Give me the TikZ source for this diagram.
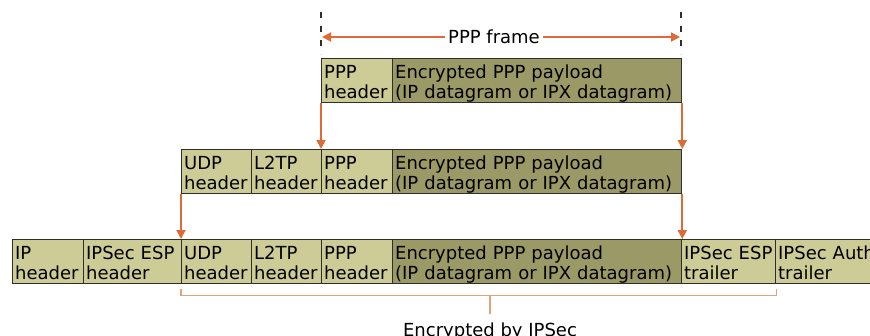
\documentclass[tikz,border=0pt]{standalone}
\usepackage{fontspec}
\setmainfont{DejaVu Sans}
\usetikzlibrary{arrows.meta}
\definecolor{hdrfill}{HTML}{CDCB96}
\definecolor{payfill}{HTML}{9B9966}
\definecolor{cellline}{HTML}{2E2E2E}
\definecolor{arrowc}{HTML}{DE6B35}
\definecolor{brkc}{HTML}{DCA67A}
\tikzset{
  cell/.style={draw=cellline, line width=1.3pt, anchor=north west,
    inner xsep=2.5pt, inner ysep=0pt, text width=#1-5pt,
    text height=20pt, text depth=24pt, align=left,
    font=\fontsize{18}{19.5}\selectfont},
  hdr/.style={cell=#1, fill=hdrfill},
  pay/.style={cell=#1, fill=payfill},
  down/.style={draw=arrowc, line width=1.8pt,
    -{Triangle[length=9pt,width=9pt]}},
  frame/.style={draw=arrowc, line width=1.8pt,
    -{Triangle[length=9pt,width=9pt]}},
  edge/.style={draw=cellline, line width=1.5pt, dash pattern=on 6pt off 8pt},
  brk/.style={draw=brkc, line width=1.2pt}
}
\begin{document}
\begin{tikzpicture}[x=1pt,y=-1pt]
\useasboundingbox (0,0) rectangle (870,335);
\clip (0,0) rectangle (870,335);
% PPP frame
\node[hdr=71pt] (ppp1) at (321,58) {PPP\\header};
\node[pay=289pt] (pay1) at (392,58) {Encrypted PPP payload\\(IP datagram or IPX datagram)};
\coordinate (el-top) at (321,12);
\coordinate (el-bot) at (321,54);
\coordinate (er-top) at (681,12);
\coordinate (er-bot) at (681,54);
\draw[edge] (el-top) -- (el-bot);
\draw[edge] (er-top) -- (er-bot);
\node[fill=white, inner xsep=3pt, font=\fontsize{18}{19.5}\selectfont] (frame) at (494,37) {PPP frame};
\coordinate (fl) at (322,37);
\coordinate (fr) at (680,37);
\draw[frame] (frame) -- (fl);
\draw[frame] (frame) -- (fr);
% L2TP packet
\node[hdr=70pt] (udp2) at (181,149) {UDP\\header};
\node[hdr=70pt] (l2tp2) at (251,149) {L2TP\\header};
\node[hdr=71pt] (ppp2) at (321,149) {PPP\\header};
\node[pay=289pt] (pay2) at (392,149) {Encrypted PPP payload\\(IP datagram or IPX datagram)};
\draw[down] (ppp1.south west) -- (ppp2.north west);
\draw[down] (pay1.south east) -- (pay2.north east);
% IPSec packet
\node[hdr=71pt] (ip3) at (12,239) {IP\\header};
\node[hdr=98pt] (esp3) at (83,239) {IPSec ESP\\header};
\node[hdr=70pt] (udp3) at (181,239) {UDP\\header};
\node[hdr=70pt] (l2tp3) at (251,239) {L2TP\\header};
\node[hdr=71pt] (ppp3) at (321,239) {PPP\\header};
\node[pay=289pt] (pay3) at (392,239) {Encrypted PPP payload\\(IP datagram or IPX datagram)};
\node[hdr=94pt] (trl3) at (681,239) {IPSec ESP\\trailer};
\node[hdr=120pt] (auth3) at (775,239) {IPSec Auth\\trailer};
\draw[down] (udp2.south west) -- (udp3.north west);
\draw[down] (pay2.south east) -- (pay3.north east);
% encrypted part
\draw[brk] ([yshift=-5pt]udp3.south west) |- ([yshift=-11pt]trl3.south east)
  -- ([yshift=-5pt]trl3.south east);
\node[font=\fontsize{18}{19.5}\selectfont, anchor=base] (enc) at (490,336) {Encrypted by IPSec};
\coordinate (bmid) at (490,295);
\coordinate (btip) at (490,314);
\draw[brk] (bmid) -- (btip);
\end{tikzpicture}
\end{document}
